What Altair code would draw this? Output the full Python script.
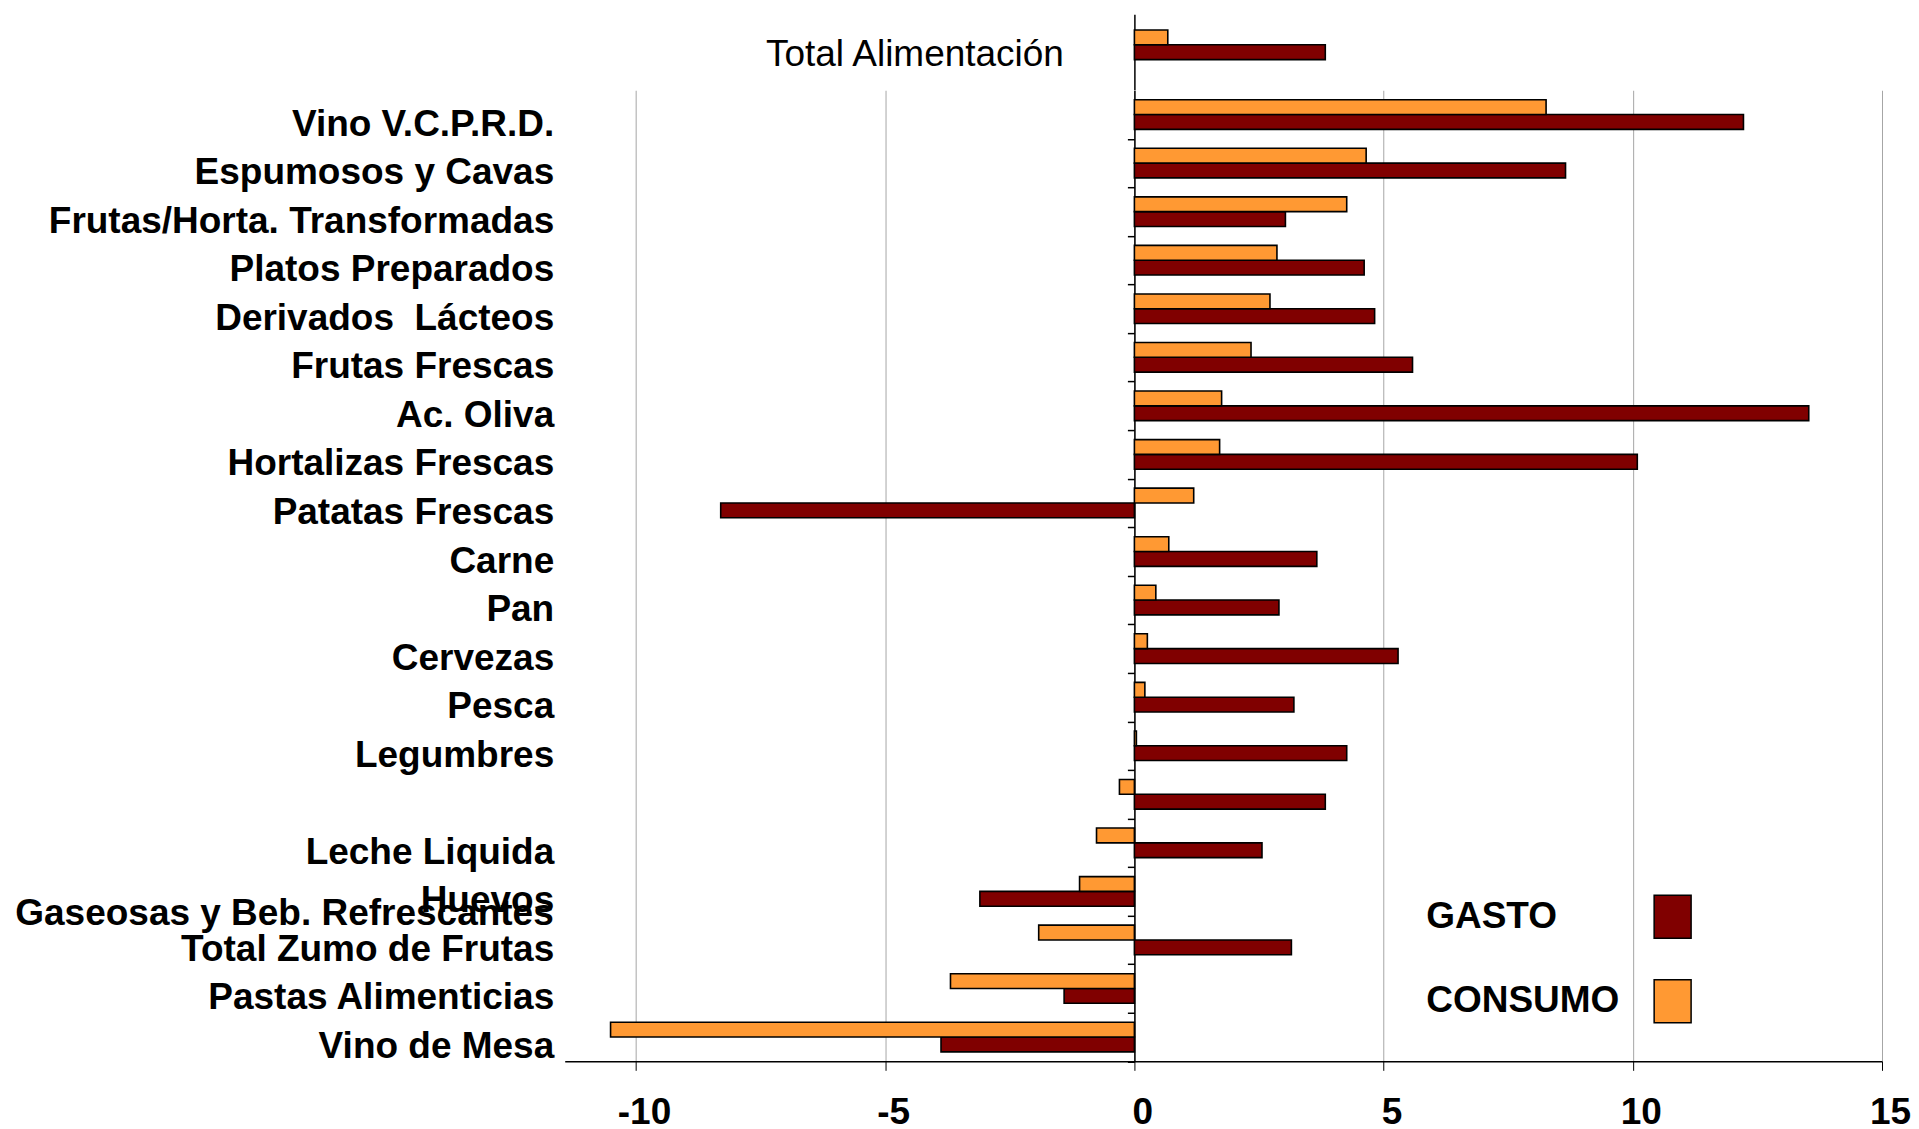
import altair as alt
import pandas as pd

# ---------------- data ----------------
categories = [
    "Vino V.C.P.R.D.", "Espumosos y Cavas", "Frutas/Horta. Transformadas",
    "Platos Preparados", "Derivados\u00a0 Lácteos", "Frutas Frescas", "Ac. Oliva",
    "Hortalizas Frescas", "Patatas Frescas", "Carne", "Pan", "Cervezas", "Pesca",
    "Legumbres", " ", "Leche Liquida", "Huevos", "Total Zumo de Frutas",
    "Pastas Alimenticias", "Vino de Mesa",
]
gasto = [12.22, 8.65, 3.03, 4.61, 4.82, 5.58, 13.53, 10.09, -8.30, 3.66, 2.90,
         5.29, 3.20, 4.26, 3.83, 2.56, -3.10, 3.15, -1.41, -3.88]
consumo = [8.26, 4.65, 4.26, 2.86, 2.72, 2.34, 1.75, 1.71, 1.19, 0.69, 0.43,
           0.26, 0.21, 0.04, -0.30, -0.76, -1.10, -1.92, -3.69, -10.51]

total_label = "Total Alimentación"
total_gasto = 3.83
total_consumo = 0.67

series = ["GASTO", "CONSUMO"]
series_colors = ["#800000", "#FF9933"]
x_ticks = [-10, -5, 0, 5, 10, 15]
extra_label = "Gaseosas y Beb. Refrescantes"
extra_label_row = "Huevos"

# ---------------- layout constants ----------------
FONT = "Liberation Sans"
X_MIN, X_MAX = -11.43, 15
W = 1318
STEP = 48.58
H_MAIN = STEP * len(categories)
H_TOP = 75.5
PAD_IN = 0.39
ZERO_X = (0 - X_MIN) / (X_MAX - X_MIN) * W
TOP_PAD_OUT = (H_TOP / STEP - 1 + PAD_IN) / 2
TOP_BAND = STEP * (1 - PAD_IN)
TOP_ALIGN = (30.5 - TOP_BAND / 2) / (H_TOP - TOP_BAND)

rows = []
for c, g, k in zip(categories, gasto, consumo):
    rows.append({"cat": c, "serie": "GASTO", "valor": g})
    rows.append({"cat": c, "serie": "CONSUMO", "valor": k})
df = pd.DataFrame(rows)
df_top = pd.DataFrame([
    {"cat": total_label, "serie": "GASTO", "valor": total_gasto},
    {"cat": total_label, "serie": "CONSUMO", "valor": total_consumo},
])
df_cats = pd.DataFrame({"cat": categories})
df_extra = pd.DataFrame({"cat": [extra_label_row], "label": [extra_label]})

xscale = alt.Scale(domain=[X_MIN, X_MAX], nice=False, zero=False)
color_scale = alt.Scale(domain=series, range=series_colors)
off_scale = alt.Scale(domain=["CONSUMO", "GASTO"], paddingInner=0, paddingOuter=0)
y_main = alt.Scale(domain=categories, paddingInner=PAD_IN, paddingOuter=PAD_IN / 2, round=False)
y_top = alt.Scale(domain=[total_label], paddingInner=PAD_IN, paddingOuter=TOP_PAD_OUT,
                  align=TOP_ALIGN, round=False)

bar_style = dict(stroke="black", strokeWidth=1.6)

label_axis = alt.Axis(orient="left", title=None, domain=False, ticks=False, tickSize=0,
                      labelPadding=11, labelFont=FONT, labelFontSize=37,
                      labelFontWeight="bold", labelColor="black", labelLimit=1000,
                      labelOffset=10, grid=False)
zero_axis = alt.Axis(orient="left", title=None, offset=-ZERO_X, labels=False,
                     domain=True, domainColor="black", domainWidth=1.5,
                     ticks=True, tickColor="black", tickWidth=1.5, tickSize=7,
                     bandPosition=1, tickOffset=STEP * PAD_IN / 2, grid=False)
top_axis = alt.Axis(orient="left", title=None, offset=-ZERO_X, domain=True,
                    domainColor="black", domainWidth=1.5, ticks=False, tickSize=0,
                    labelPadding=71, labelFont=FONT, labelFontSize=37,
                    labelFontWeight="normal", labelColor="black", labelLimit=1000,
                    labelOffset=10, grid=False)
x_axis = alt.Axis(values=x_ticks, title=None, grid=True, gridColor="#a6a6a6", gridWidth=1,
                  domainColor="black", domainWidth=1.5, tickColor="black", tickSize=9,
                  tickWidth=1, labelFont=FONT, labelFontSize=37, labelFontWeight="bold",
                  labelColor="black", labelPadding=24, labelOffset=8, labelFlush=False,
                  labelOverlap=False, labelExpr="'' + datum.value")

legend = alt.Legend(orient="none", legendX=1086, legendY=804.5, title=None, padding=0,
                    symbolType="M-0.86,-1H0.86V1H-0.86Z", symbolSize=1849,
                    symbolStrokeColor="black", symbolStrokeWidth=1.5, symbolOpacity=1,
                    labelFont=FONT, labelFontSize=37, labelFontWeight="bold",
                    labelColor="black", labelOffset=alt.ExprRef("-269"), labelAlign="left",
                    labelLimit=1000, rowPadding=35.5)

top = alt.Chart(df_top).mark_bar(**bar_style).encode(
    x=alt.X("valor:Q", scale=xscale, axis=None),
    y=alt.Y("cat:N", scale=y_top, axis=top_axis),
    yOffset=alt.YOffset("serie:N", scale=off_scale),
    color=alt.Color("serie:N", scale=color_scale, legend=None),
).properties(width=W, height=H_TOP)

bars_main = alt.Chart(df).mark_bar(**bar_style).encode(
    x=alt.X("valor:Q", scale=xscale, axis=x_axis),
    y=alt.Y("cat:N", scale=y_main, axis=label_axis),
    yOffset=alt.YOffset("serie:N", scale=off_scale),
    color=alt.Color("serie:N", scale=color_scale, legend=legend),
)
zero_layer = alt.Chart(df_cats).mark_rule(opacity=0).encode(
    y=alt.Y("cat:N", scale=y_main, axis=zero_axis),
)
extra_text = alt.Chart(df_extra).mark_text(
    align="right", baseline="middle", font=FONT, fontSize=37, fontWeight="bold",
    color="black", dx=-11, dy=23,
).encode(
    x=alt.datum(X_MIN),
    y=alt.Y("cat:N", scale=y_main, axis=None),
    text="label:N",
)

main = alt.layer(bars_main, zero_layer, extra_text).resolve_axis(y="independent").properties(
    width=W, height=H_MAIN)

chart = alt.vconcat(top, main, spacing=0, bounds="flush").resolve_scale(
    y="independent", yOffset="independent", color="independent"
).properties(
    padding={"left": 7, "top": 6, "right": 0, "bottom": 0}
).configure(font=FONT).configure_view(stroke="transparent", strokeWidth=0)

chart.save("out.html", embed_options={"renderer": "svg", "actions": False})
